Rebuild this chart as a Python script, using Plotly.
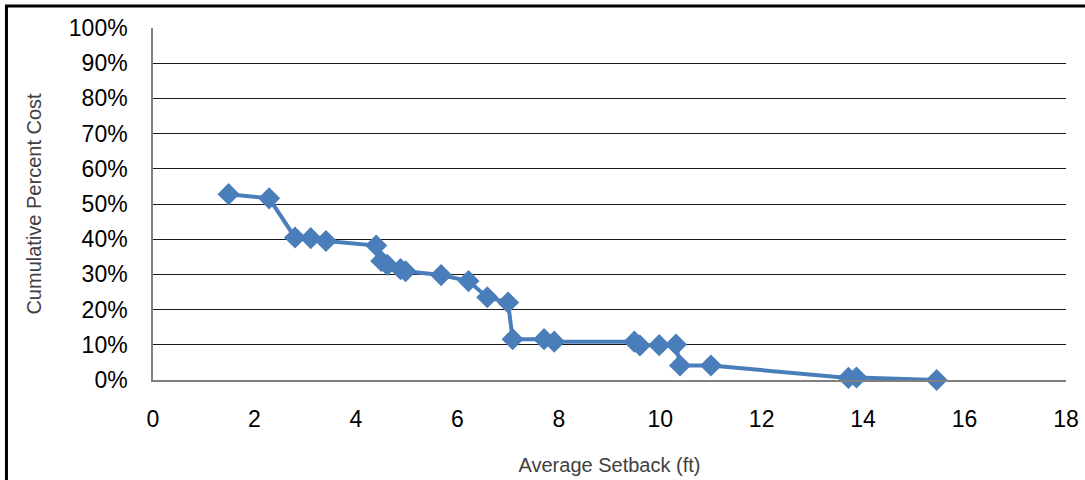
import plotly.graph_objects as go

setback_ft = [1.49, 2.29, 2.80, 3.11, 3.41, 4.40, 4.50, 4.62, 4.88, 4.98, 5.68,
              6.22, 6.59, 7.00, 7.09, 7.71, 7.91, 9.49, 9.60, 9.98, 10.31, 10.39,
              11.00, 13.71, 13.87, 15.45]
cum_pct_cost = [0.528, 0.516, 0.405, 0.403, 0.395, 0.382, 0.338, 0.327, 0.315, 0.309, 0.298,
                0.281, 0.235, 0.220, 0.116, 0.116, 0.109, 0.109, 0.098, 0.099, 0.101, 0.041,
                0.041, 0.006, 0.007, 0.000]
x_ticks = [0, 2, 4, 6, 8, 10, 12, 14, 16, 18]
y_ticks = [0, 0.1, 0.2, 0.3, 0.4, 0.5, 0.6, 0.7, 0.8, 0.9, 1.0]

fig = go.Figure()
fig.add_trace(go.Scatter(
    x=setback_ft, y=cum_pct_cost, mode="lines+markers",
    line=dict(color="#4A7EBB", width=4),
    marker=dict(symbol="diamond", size=17, color="#4A7EBB"),
    showlegend=False, cliponaxis=False,
))

fig.update_layout(
    width=1085, height=480,
    margin=dict(l=153, r=19, t=28, b=100),
    paper_bgcolor="white", plot_bgcolor="white",
    font=dict(family="Liberation Sans, Arial, sans-serif", color="#000000"),
    xaxis=dict(
        range=[0, 18], tickvals=x_ticks, showgrid=False, zeroline=False,
        showline=True, linecolor="#808080", linewidth=1.5, automargin=False,
        ticks="", tickfont=dict(size=23), ticklabelstandoff=18,
        title=dict(text="Average Setback (ft)", font=dict(size=20, color="#404040"), standoff=27),
    ),
    yaxis=dict(
        range=[0, 1.0], tickvals=y_ticks, tickformat=".0%", showgrid=True,
        gridcolor="#1a1a1a", gridwidth=1.2, zeroline=False, automargin=False,
        showline=True, linecolor="#808080", linewidth=1.5,
        ticks="", tickfont=dict(size=23), ticklabelstandoff=19,
        title=dict(text="Cumulative Percent Cost", font=dict(size=20, color="#404040"), standoff=22),
    ),
)

# outer frame (top and left visible)
fig.add_shape(type="rect", xref="paper", yref="paper",
              x0=-0.1605, x1=1.05, y0=-0.40, y1=1.0625,
              line=dict(color="black", width=3), fillcolor="rgba(0,0,0,0)", layer="above")

fig.write_html("out.html", config={"displayModeBar": False},
               post_script="document.body.style.margin='0';")
